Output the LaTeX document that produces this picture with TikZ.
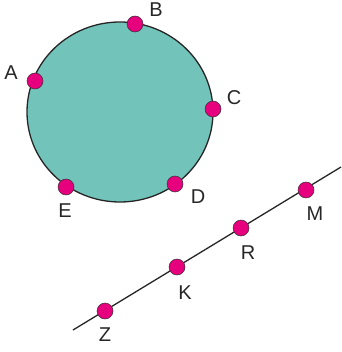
\documentclass[tikz,border=0pt]{standalone}
\usepackage{fontspec}
\setmainfont{Liberation Sans}
\definecolor{teal}{HTML}{72C4BB}
\definecolor{dotpink}{HTML}{E6007E}
\tikzset{
  dot/.style={circle, draw=black!80, line width=0.5pt, fill=dotpink, minimum size=16pt, inner sep=0pt},
  lbl/.style={font=\fontsize{20}{20}\selectfont, text=black!85, inner sep=0pt},
  line/.style={line width=1.3pt, black!85}
}
\begin{document}
\begin{tikzpicture}[x=1pt, y=-1pt]
  \useasboundingbox (0,0) rectangle (341,352);

  \draw [line, fill=teal] (120,112) ellipse (93 and 90);
  \coordinate (lineStart) at (73,330);
  \coordinate (lineEnd) at (341,167);
  \draw [line] (lineStart) -- (lineEnd);

  \node (A) [dot] at (35,81) {};
  \node (B) [dot] at (135,24) {};
  \node (C) [dot] at (213,109) {};
  \node (D) [dot] at (175,184) {};
  \node (E) [dot] at (66,187) {};
  \node (Z) [dot] at (105,311) {};
  \node (K) [dot] at (177,267) {};
  \node (R) [dot] at (241,228) {};
  \node (M) [dot] at (306,190) {};

  \node (labA) [lbl] at (11,73) {A};
  \node (labB) [lbl] at (156,10) {B};
  \node (labC) [lbl] at (234,98) {C};
  \node (labD) [lbl] at (198,197) {D};
  \node (labE) [lbl] at (65,211) {E};
  \node (labZ) [lbl] at (105,335) {Z};
  \node (labK) [lbl] at (185,293) {K};
  \node (labR) [lbl] at (248,253) {R};
  \node (labM) [lbl] at (315,214) {M};

\end{tikzpicture}
\end{document}
